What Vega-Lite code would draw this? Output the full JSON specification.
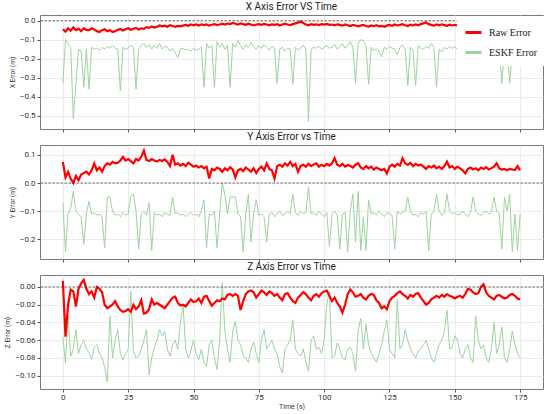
{
  "$schema": "https://vega.github.io/schema/vega-lite/v6.json",
  "description": "Raw vs ESKF position error on X, Y and Z axes over time.",
  "padding": {"left": 4, "right": 7, "top": 1, "bottom": 2},
  "datasets": {
    "x": [
      {"t":0,"r":-0.045,"e":-0.33},{"t":1,"r":-0.058,"e":-0.10},{"t":2,"r":-0.04,"e":-0.12},{"t":3,"r":-0.052,"e":-0.14},{"t":4,"r":-0.035,"e":-0.515},{"t":5,"r":-0.05,"e":-0.33},{"t":6,"r":-0.042,"e":-0.15},{"t":7,"r":-0.055,"e":-0.16},{"t":8,"r":-0.04,"e":-0.35},{"t":9,"r":-0.048,"e":-0.15},
      {"t":10,"r":-0.05,"e":-0.36},{"t":11,"r":-0.04,"e":-0.14},{"t":12,"r":-0.046,"e":-0.15},{"t":13,"r":-0.055,"e":-0.145},{"t":14,"r":-0.06,"e":-0.155},{"t":15,"r":-0.05,"e":-0.14},{"t":16,"r":-0.045,"e":-0.15},{"t":17,"r":-0.055,"e":-0.135},{"t":18,"r":-0.05,"e":-0.145},{"t":19,"r":-0.06,"e":-0.13},
      {"t":20,"r":-0.055,"e":-0.145},{"t":21,"r":-0.048,"e":-0.15},{"t":22,"r":-0.044,"e":-0.37},{"t":23,"r":-0.052,"e":-0.14},{"t":24,"r":-0.045,"e":-0.15},{"t":25,"r":-0.04,"e":-0.145},{"t":26,"r":-0.048,"e":-0.13},{"t":27,"r":-0.042,"e":-0.14},{"t":28,"r":-0.038,"e":-0.36},{"t":29,"r":-0.046,"e":-0.15},
      {"t":30,"r":-0.04,"e":-0.13},{"t":31,"r":-0.043,"e":-0.12},{"t":32,"r":-0.034,"e":-0.14},{"t":33,"r":-0.038,"e":-0.125},{"t":34,"r":-0.03,"e":-0.15},{"t":35,"r":-0.036,"e":-0.13},{"t":36,"r":-0.032,"e":-0.145},{"t":37,"r":-0.025,"e":-0.12},{"t":38,"r":-0.03,"e":-0.15},{"t":39,"r":-0.026,"e":-0.135},
      {"t":40,"r":-0.032,"e":-0.14},{"t":41,"r":-0.024,"e":-0.16},{"t":42,"r":-0.028,"e":-0.145},{"t":43,"r":-0.032,"e":-0.17},{"t":44,"r":-0.027,"e":-0.195},{"t":45,"r":-0.03,"e":-0.15},{"t":46,"r":-0.026,"e":-0.145},{"t":47,"r":-0.022,"e":-0.155},{"t":48,"r":-0.027,"e":-0.15},{"t":49,"r":-0.02,"e":-0.16},
      {"t":50,"r":-0.024,"e":-0.145},{"t":51,"r":-0.02,"e":-0.155},{"t":52,"r":-0.025,"e":-0.15},{"t":53,"r":-0.019,"e":-0.14},{"t":54,"r":-0.023,"e":-0.35},{"t":55,"r":-0.02,"e":-0.12},{"t":56,"r":-0.026,"e":-0.145},{"t":57,"r":-0.021,"e":-0.13},{"t":58,"r":-0.018,"e":-0.35},{"t":59,"r":-0.023,"e":-0.11},
      {"t":60,"r":-0.02,"e":-0.14},{"t":61,"r":-0.016,"e":-0.12},{"t":62,"r":-0.02,"e":-0.15},{"t":63,"r":-0.015,"e":-0.13},{"t":64,"r":-0.018,"e":-0.35},{"t":65,"r":-0.012,"e":-0.12},{"t":66,"r":-0.016,"e":-0.14},{"t":67,"r":-0.02,"e":-0.105},{"t":68,"r":-0.014,"e":-0.13},{"t":69,"r":-0.018,"e":-0.15},
      {"t":70,"r":-0.022,"e":-0.125},{"t":71,"r":-0.016,"e":-0.14},{"t":72,"r":-0.02,"e":-0.115},{"t":73,"r":-0.025,"e":-0.135},{"t":74,"r":-0.02,"e":-0.15},{"t":75,"r":-0.018,"e":-0.13},{"t":76,"r":-0.022,"e":-0.145},{"t":77,"r":-0.017,"e":-0.125},{"t":78,"r":-0.02,"e":-0.14},{"t":79,"r":-0.024,"e":-0.155},
      {"t":80,"r":-0.019,"e":-0.135},{"t":81,"r":-0.022,"e":-0.145},{"t":82,"r":-0.018,"e":-0.33},{"t":83,"r":-0.025,"e":-0.15},{"t":84,"r":-0.02,"e":-0.14},{"t":85,"r":-0.016,"e":-0.16},{"t":86,"r":-0.02,"e":-0.145},{"t":87,"r":-0.023,"e":-0.15},{"t":88,"r":-0.018,"e":-0.335},{"t":89,"r":-0.014,"e":-0.14},
      {"t":90,"r":-0.01,"e":-0.155},{"t":91,"r":-0.004,"e":-0.145},{"t":92,"r":-0.012,"e":-0.13},{"t":93,"r":-0.02,"e":-0.15},{"t":94,"r":-0.024,"e":-0.53},{"t":95,"r":-0.018,"e":-0.15},{"t":96,"r":-0.022,"e":-0.14},{"t":97,"r":-0.019,"e":-0.145},{"t":98,"r":-0.023,"e":-0.135},{"t":99,"r":-0.018,"e":-0.15},
      {"t":100,"r":-0.021,"e":-0.14},{"t":101,"r":-0.017,"e":-0.13},{"t":102,"r":-0.022,"e":-0.145},{"t":103,"r":-0.02,"e":-0.14},{"t":104,"r":-0.024,"e":-0.125},{"t":105,"r":-0.019,"e":-0.15},{"t":106,"r":-0.022,"e":-0.135},{"t":107,"r":-0.026,"e":-0.12},{"t":108,"r":-0.02,"e":-0.145},{"t":109,"r":-0.024,"e":-0.13},
      {"t":110,"r":-0.028,"e":-0.11},{"t":111,"r":-0.022,"e":-0.14},{"t":112,"r":-0.025,"e":-0.33},{"t":113,"r":-0.03,"e":-0.12},{"t":114,"r":-0.026,"e":-0.10},{"t":115,"r":-0.022,"e":-0.105},{"t":116,"r":-0.028,"e":-0.13},{"t":117,"r":-0.031,"e":-0.335},{"t":118,"r":-0.025,"e":-0.14},{"t":119,"r":-0.029,"e":-0.155},
      {"t":120,"r":-0.024,"e":-0.145},{"t":121,"r":-0.03,"e":-0.16},{"t":122,"r":-0.027,"e":-0.19},{"t":123,"r":-0.032,"e":-0.14},{"t":124,"r":-0.026,"e":-0.15},{"t":125,"r":-0.022,"e":-0.135},{"t":126,"r":-0.027,"e":-0.145},{"t":127,"r":-0.02,"e":-0.15},{"t":128,"r":-0.025,"e":-0.18},{"t":129,"r":-0.022,"e":-0.14},
      {"t":130,"r":-0.018,"e":-0.13},{"t":131,"r":-0.024,"e":-0.15},{"t":132,"r":-0.028,"e":-0.34},{"t":133,"r":-0.021,"e":-0.14},{"t":134,"r":-0.025,"e":-0.155},{"t":135,"r":-0.02,"e":-0.34},{"t":136,"r":-0.024,"e":-0.13},{"t":137,"r":-0.018,"e":-0.145},{"t":138,"r":-0.014,"e":-0.15},{"t":139,"r":-0.009,"e":-0.135},
      {"t":140,"r":-0.018,"e":-0.145},{"t":141,"r":-0.022,"e":-0.12},{"t":142,"r":-0.026,"e":-0.14},{"t":143,"r":-0.02,"e":-0.35},{"t":144,"r":-0.024,"e":-0.15},{"t":145,"r":-0.019,"e":-0.165},{"t":146,"r":-0.023,"e":-0.14},{"t":147,"r":-0.027,"e":-0.15},{"t":148,"r":-0.021,"e":-0.135},{"t":149,"r":-0.025,"e":-0.145},
      {"t":150,"r":-0.022,"e":-0.14},{"t":151,"r":-0.025,"e":-0.15},{"t":152,"r":-0.02,"e":-0.14},{"t":153,"r":-0.024,"e":-0.145},{"t":154,"r":-0.022,"e":-0.15},{"t":155,"r":-0.026,"e":-0.14},{"t":156,"r":-0.021,"e":-0.145},{"t":157,"r":-0.024,"e":-0.15},{"t":158,"r":-0.02,"e":-0.14},{"t":159,"r":-0.025,"e":-0.145},
      {"t":160,"r":-0.022,"e":-0.15},{"t":161,"r":-0.026,"e":-0.14},{"t":162,"r":-0.021,"e":-0.145},{"t":163,"r":-0.024,"e":-0.15},{"t":164,"r":-0.02,"e":-0.14},{"t":165,"r":-0.025,"e":-0.145},{"t":166,"r":-0.022,"e":-0.15},{"t":167,"r":-0.024,"e":-0.14},{"t":168,"r":-0.021,"e":-0.33},{"t":169,"r":-0.025,"e":-0.145},
      {"t":170,"r":-0.022,"e":-0.15},{"t":171,"r":-0.024,"e":-0.33},{"t":172,"r":-0.02,"e":-0.145},{"t":173,"r":-0.023,"e":-0.14},{"t":174,"r":-0.021,"e":-0.15},{"t":175,"r":-0.024,"e":-0.145}
    ],
    "y": [
      {"t":0,"r":0.075,"e":-0.07},{"t":1,"r":0.02,"e":-0.245},{"t":2,"r":0.04,"e":-0.11},{"t":3,"r":0.015,"e":-0.09},{"t":4,"r":0.0,"e":-0.03},{"t":5,"r":0.025,"e":-0.1},{"t":6,"r":0.01,"e":-0.11},{"t":7,"r":0.03,"e":-0.12},{"t":8,"r":0.035,"e":-0.217},{"t":9,"r":0.04,"e":-0.11},
      {"t":10,"r":0.03,"e":-0.065},{"t":11,"r":0.045,"e":-0.11},{"t":12,"r":0.07,"e":-0.105},{"t":13,"r":0.045,"e":-0.115},{"t":14,"r":0.055,"e":-0.11},{"t":15,"r":0.04,"e":-0.12},{"t":16,"r":0.06,"e":-0.23},{"t":17,"r":0.07,"e":-0.05},{"t":18,"r":0.065,"e":-0.05},{"t":19,"r":0.075,"e":-0.1},
      {"t":20,"r":0.07,"e":-0.115},{"t":21,"r":0.072,"e":-0.11},{"t":22,"r":0.08,"e":-0.12},{"t":23,"r":0.093,"e":-0.105},{"t":24,"r":0.08,"e":-0.115},{"t":25,"r":0.085,"e":-0.11},{"t":26,"r":0.078,"e":-0.045},{"t":27,"r":0.07,"e":-0.04},{"t":28,"r":0.085,"e":-0.1},{"t":29,"r":0.08,"e":-0.235},
      {"t":30,"r":0.093,"e":-0.11},{"t":31,"r":0.115,"e":-0.1},{"t":32,"r":0.082,"e":-0.115},{"t":33,"r":0.078,"e":-0.07},{"t":34,"r":0.085,"e":-0.24},{"t":35,"r":0.08,"e":-0.105},{"t":36,"r":0.076,"e":-0.115},{"t":37,"r":0.082,"e":-0.11},{"t":38,"r":0.078,"e":-0.12},{"t":39,"r":0.084,"e":-0.105},
      {"t":40,"r":0.075,"e":-0.11},{"t":41,"r":0.06,"e":-0.115},{"t":42,"r":0.1,"e":-0.05},{"t":43,"r":0.065,"e":-0.11},{"t":44,"r":0.07,"e":-0.105},{"t":45,"r":0.062,"e":-0.115},{"t":46,"r":0.068,"e":-0.11},{"t":47,"r":0.06,"e":-0.12},{"t":48,"r":0.072,"e":-0.11},{"t":49,"r":0.065,"e":-0.105},
      {"t":50,"r":0.058,"e":-0.115},{"t":51,"r":0.062,"e":-0.11},{"t":52,"r":0.055,"e":-0.12},{"t":53,"r":0.06,"e":-0.1},{"t":54,"r":0.052,"e":-0.06},{"t":55,"r":0.058,"e":-0.23},{"t":56,"r":0.016,"e":-0.11},{"t":57,"r":0.05,"e":-0.115},{"t":58,"r":0.045,"e":-0.1},{"t":59,"r":0.055,"e":-0.23},
      {"t":60,"r":0.05,"e":-0.11},{"t":61,"r":0.04,"e":0.0},{"t":62,"r":0.052,"e":-0.04},{"t":63,"r":0.045,"e":-0.11},{"t":64,"r":0.056,"e":-0.05},{"t":65,"r":0.048,"e":-0.05},{"t":66,"r":0.02,"e":-0.05},{"t":67,"r":0.045,"e":-0.11},{"t":68,"r":0.05,"e":-0.12},{"t":69,"r":0.042,"e":-0.245},
      {"t":70,"r":0.055,"e":-0.11},{"t":71,"r":0.048,"e":-0.04},{"t":72,"r":0.04,"e":-0.21},{"t":73,"r":0.052,"e":-0.11},{"t":74,"r":0.035,"e":-0.06},{"t":75,"r":0.05,"e":-0.115},{"t":76,"r":0.058,"e":-0.11},{"t":77,"r":0.045,"e":-0.12},{"t":78,"r":0.07,"e":-0.21},{"t":79,"r":0.05,"e":-0.11},
      {"t":80,"r":0.045,"e":-0.105},{"t":81,"r":0.016,"e":-0.12},{"t":82,"r":0.06,"e":-0.11},{"t":83,"r":0.065,"e":-0.1},{"t":84,"r":0.058,"e":-0.115},{"t":85,"r":0.07,"e":-0.11},{"t":86,"r":0.062,"e":-0.1},{"t":87,"r":0.075,"e":-0.11},{"t":88,"r":0.06,"e":-0.04},{"t":89,"r":0.068,"e":-0.105},
      {"t":90,"r":0.04,"e":-0.115},{"t":91,"r":0.06,"e":-0.1},{"t":92,"r":0.065,"e":-0.11},{"t":93,"r":0.058,"e":-0.105},{"t":94,"r":0.068,"e":-0.015},{"t":95,"r":0.06,"e":-0.11},{"t":96,"r":0.066,"e":-0.105},{"t":97,"r":0.07,"e":-0.115},{"t":98,"r":0.058,"e":-0.1},{"t":99,"r":0.065,"e":-0.11},
      {"t":100,"r":0.06,"e":-0.12},{"t":101,"r":0.068,"e":-0.105},{"t":102,"r":0.062,"e":-0.225},{"t":103,"r":0.07,"e":-0.11},{"t":104,"r":0.088,"e":-0.1},{"t":105,"r":0.065,"e":-0.115},{"t":106,"r":0.06,"e":-0.235},{"t":107,"r":0.068,"e":-0.11},{"t":108,"r":0.058,"e":-0.105},{"t":109,"r":0.064,"e":-0.245},
      {"t":110,"r":0.06,"e":-0.1},{"t":111,"r":0.055,"e":-0.04},{"t":112,"r":0.065,"e":-0.21},{"t":113,"r":0.07,"e":-0.03},{"t":114,"r":0.055,"e":-0.24},{"t":115,"r":0.05,"e":-0.12},{"t":116,"r":0.06,"e":-0.24},{"t":117,"r":0.052,"e":-0.06},{"t":118,"r":0.058,"e":-0.11},{"t":119,"r":0.048,"e":-0.105},
      {"t":120,"r":0.055,"e":-0.115},{"t":121,"r":0.05,"e":-0.1},{"t":122,"r":0.045,"e":-0.11},{"t":123,"r":0.05,"e":-0.12},{"t":124,"r":0.034,"e":-0.105},{"t":125,"r":0.058,"e":-0.11},{"t":126,"r":0.065,"e":-0.115},{"t":127,"r":0.058,"e":-0.235},{"t":128,"r":0.068,"e":-0.1},{"t":129,"r":0.062,"e":-0.11},
      {"t":130,"r":0.088,"e":-0.105},{"t":131,"r":0.07,"e":-0.1},{"t":132,"r":0.064,"e":-0.05},{"t":133,"r":0.072,"e":-0.1},{"t":134,"r":0.06,"e":-0.115},{"t":135,"r":0.068,"e":-0.11},{"t":136,"r":0.062,"e":-0.12},{"t":137,"r":0.066,"e":-0.105},{"t":138,"r":0.058,"e":-0.11},{"t":139,"r":0.05,"e":-0.1},
      {"t":140,"r":0.06,"e":-0.24},{"t":141,"r":0.055,"e":-0.11},{"t":142,"r":0.062,"e":-0.1},{"t":143,"r":0.052,"e":-0.04},{"t":144,"r":0.058,"e":-0.1},{"t":145,"r":0.05,"e":-0.115},{"t":146,"r":0.06,"e":-0.105},{"t":147,"r":0.076,"e":-0.04},{"t":148,"r":0.055,"e":-0.1},{"t":149,"r":0.06,"e":-0.11},
      {"t":150,"r":0.05,"e":-0.105},{"t":151,"r":0.058,"e":-0.115},{"t":152,"r":0.052,"e":-0.11},{"t":153,"r":0.045,"e":-0.1},{"t":154,"r":0.034,"e":-0.11},{"t":155,"r":0.05,"e":-0.12},{"t":156,"r":0.055,"e":-0.105},{"t":157,"r":0.048,"e":-0.05},{"t":158,"r":0.052,"e":-0.1},{"t":159,"r":0.045,"e":-0.11},
      {"t":160,"r":0.055,"e":-0.115},{"t":161,"r":0.05,"e":-0.105},{"t":162,"r":0.056,"e":-0.1},{"t":163,"r":0.048,"e":-0.11},{"t":164,"r":0.052,"e":-0.105},{"t":165,"r":0.058,"e":-0.05},{"t":166,"r":0.07,"e":-0.1},{"t":167,"r":0.052,"e":-0.11},{"t":168,"r":0.048,"e":-0.235},{"t":169,"r":0.05,"e":-0.05},
      {"t":170,"r":0.045,"e":-0.1},{"t":171,"r":0.05,"e":-0.04},{"t":172,"r":0.048,"e":-0.245},{"t":173,"r":0.046,"e":-0.11},{"t":174,"r":0.06,"e":-0.24},{"t":175,"r":0.045,"e":-0.11}
    ],
    "z": [
      {"t":0,"r":0.007,"e":-0.056},{"t":1,"r":-0.056,"e":-0.086},{"t":2,"r":-0.02,"e":-0.033},{"t":3,"r":-0.003,"e":-0.078},{"t":4,"r":-0.005,"e":-0.07},{"t":5,"r":-0.022,"e":-0.048},{"t":6,"r":-0.002,"e":-0.075},{"t":7,"r":0.004,"e":-0.065},{"t":8,"r":0.008,"e":-0.06},{"t":9,"r":-0.002,"e":-0.07},
      {"t":10,"r":-0.008,"e":-0.074},{"t":11,"r":-0.005,"e":-0.082},{"t":12,"r":-0.012,"e":-0.068},{"t":13,"r":0.0,"e":-0.065},{"t":14,"r":-0.002,"e":-0.075},{"t":15,"r":-0.006,"e":-0.08},{"t":16,"r":-0.02,"e":-0.09},{"t":17,"r":-0.024,"e":-0.107},{"t":18,"r":-0.022,"e":-0.033},{"t":19,"r":-0.02,"e":-0.08},
      {"t":20,"r":-0.016,"e":-0.06},{"t":21,"r":-0.022,"e":-0.048},{"t":22,"r":-0.026,"e":-0.075},{"t":23,"r":-0.028,"e":-0.082},{"t":24,"r":-0.027,"e":-0.075},{"t":25,"r":-0.025,"e":-0.07},{"t":26,"r":-0.028,"e":-0.005},{"t":27,"r":-0.02,"e":-0.072},{"t":28,"r":-0.025,"e":-0.08},{"t":29,"r":-0.022,"e":-0.078},
      {"t":30,"r":-0.015,"e":-0.07},{"t":31,"r":-0.03,"e":-0.06},{"t":32,"r":-0.029,"e":-0.048},{"t":33,"r":-0.025,"e":-0.099},{"t":34,"r":-0.014,"e":-0.08},{"t":35,"r":-0.02,"e":-0.068},{"t":36,"r":-0.018,"e":-0.06},{"t":37,"r":-0.02,"e":-0.048},{"t":38,"r":-0.022,"e":-0.055},{"t":39,"r":-0.024,"e":-0.05},
      {"t":40,"r":-0.02,"e":-0.07},{"t":41,"r":-0.016,"e":-0.078},{"t":42,"r":-0.012,"e":-0.065},{"t":43,"r":-0.011,"e":-0.06},{"t":44,"r":-0.018,"e":-0.07},{"t":45,"r":-0.021,"e":-0.04},{"t":46,"r":-0.02,"e":-0.02},{"t":47,"r":-0.022,"e":-0.07},{"t":48,"r":-0.018,"e":-0.08},{"t":49,"r":-0.014,"e":-0.072},
      {"t":50,"r":-0.017,"e":-0.06},{"t":51,"r":-0.016,"e":-0.075},{"t":52,"r":-0.013,"e":-0.082},{"t":53,"r":-0.018,"e":-0.07},{"t":54,"r":-0.011,"e":-0.085},{"t":55,"r":-0.01,"e":-0.09},{"t":56,"r":-0.016,"e":-0.065},{"t":57,"r":-0.021,"e":-0.06},{"t":58,"r":-0.018,"e":-0.08},{"t":59,"r":-0.015,"e":-0.093},
      {"t":60,"r":-0.016,"e":-0.06},{"t":61,"r":-0.013,"e":0.005},{"t":62,"r":-0.014,"e":-0.05},{"t":63,"r":-0.009,"e":-0.07},{"t":64,"r":-0.008,"e":-0.085},{"t":65,"r":-0.01,"e":-0.05},{"t":66,"r":-0.008,"e":-0.039},{"t":67,"r":-0.01,"e":-0.06},{"t":68,"r":-0.026,"e":-0.065},{"t":69,"r":-0.016,"e":-0.078},
      {"t":70,"r":-0.008,"e":-0.08},{"t":71,"r":-0.005,"e":-0.085},{"t":72,"r":-0.004,"e":-0.07},{"t":73,"r":-0.006,"e":-0.062},{"t":74,"r":-0.012,"e":-0.075},{"t":75,"r":-0.008,"e":-0.085},{"t":76,"r":-0.004,"e":-0.06},{"t":77,"r":-0.006,"e":-0.048},{"t":78,"r":-0.009,"e":-0.07},{"t":79,"r":-0.005,"e":-0.065},
      {"t":80,"r":-0.007,"e":-0.06},{"t":81,"r":-0.01,"e":-0.07},{"t":82,"r":-0.008,"e":-0.075},{"t":83,"r":-0.012,"e":-0.09},{"t":84,"r":-0.015,"e":-0.097},{"t":85,"r":-0.008,"e":-0.07},{"t":86,"r":-0.007,"e":-0.065},{"t":87,"r":-0.012,"e":-0.06},{"t":88,"r":-0.016,"e":-0.037},{"t":89,"r":-0.018,"e":-0.07},
      {"t":90,"r":-0.012,"e":-0.075},{"t":91,"r":-0.009,"e":-0.078},{"t":92,"r":-0.006,"e":-0.07},{"t":93,"r":-0.008,"e":-0.085},{"t":94,"r":-0.012,"e":-0.095},{"t":95,"r":-0.015,"e":-0.06},{"t":96,"r":-0.01,"e":-0.055},{"t":97,"r":-0.008,"e":-0.07},{"t":98,"r":-0.011,"e":-0.068},{"t":99,"r":-0.007,"e":-0.075},
      {"t":100,"r":-0.005,"e":-0.06},{"t":101,"r":-0.004,"e":-0.02},{"t":102,"r":-0.01,"e":-0.005},{"t":103,"r":-0.016,"e":-0.08},{"t":104,"r":-0.012,"e":-0.078},{"t":105,"r":-0.018,"e":-0.063},{"t":106,"r":-0.022,"e":-0.07},{"t":107,"r":-0.029,"e":-0.08},{"t":108,"r":-0.02,"e":-0.082},{"t":109,"r":-0.008,"e":-0.07},
      {"t":110,"r":-0.003,"e":-0.068},{"t":111,"r":-0.006,"e":-0.075},{"t":112,"r":-0.011,"e":-0.095},{"t":113,"r":-0.01,"e":-0.05},{"t":114,"r":-0.008,"e":-0.035},{"t":115,"r":-0.012,"e":-0.07},{"t":116,"r":-0.014,"e":-0.042},{"t":117,"r":-0.01,"e":-0.065},{"t":118,"r":-0.008,"e":-0.075},{"t":119,"r":-0.009,"e":-0.08},
      {"t":120,"r":-0.015,"e":-0.085},{"t":121,"r":-0.018,"e":-0.075},{"t":122,"r":-0.024,"e":-0.065},{"t":123,"r":-0.022,"e":-0.05},{"t":124,"r":-0.025,"e":-0.037},{"t":125,"r":-0.016,"e":-0.07},{"t":126,"r":-0.012,"e":-0.075},{"t":127,"r":-0.01,"e":-0.08},{"t":128,"r":-0.007,"e":-0.014},{"t":129,"r":-0.005,"e":-0.07},
      {"t":130,"r":-0.008,"e":-0.065},{"t":131,"r":-0.01,"e":-0.048},{"t":132,"r":-0.013,"e":-0.06},{"t":133,"r":-0.009,"e":-0.07},{"t":134,"r":-0.011,"e":-0.075},{"t":135,"r":-0.008,"e":-0.08},{"t":136,"r":-0.007,"e":-0.072},{"t":137,"r":-0.012,"e":-0.07},{"t":138,"r":-0.016,"e":-0.065},{"t":139,"r":-0.02,"e":-0.06},
      {"t":140,"r":-0.018,"e":-0.07},{"t":141,"r":-0.014,"e":-0.08},{"t":142,"r":-0.012,"e":-0.085},{"t":143,"r":-0.01,"e":-0.075},{"t":144,"r":-0.012,"e":-0.065},{"t":145,"r":-0.009,"e":-0.06},{"t":146,"r":-0.011,"e":-0.05},{"t":147,"r":-0.008,"e":-0.026},{"t":148,"r":-0.01,"e":-0.07},{"t":149,"r":-0.011,"e":-0.068},
      {"t":150,"r":-0.013,"e":-0.055},{"t":151,"r":-0.011,"e":-0.06},{"t":152,"r":-0.01,"e":-0.075},{"t":153,"r":-0.012,"e":-0.08},{"t":154,"r":-0.008,"e":-0.07},{"t":155,"r":-0.002,"e":-0.065},{"t":156,"r":-0.003,"e":-0.08},{"t":157,"r":-0.006,"e":-0.085},{"t":158,"r":-0.008,"e":-0.033},{"t":159,"r":-0.007,"e":-0.06},
      {"t":160,"r":0.0,"e":-0.07},{"t":161,"r":0.003,"e":-0.065},{"t":162,"r":-0.006,"e":-0.08},{"t":163,"r":-0.01,"e":-0.085},{"t":164,"r":-0.012,"e":-0.07},{"t":165,"r":-0.014,"e":-0.04},{"t":166,"r":-0.01,"e":-0.075},{"t":167,"r":-0.009,"e":-0.065},{"t":168,"r":-0.011,"e":-0.045},{"t":169,"r":-0.013,"e":-0.08},
      {"t":170,"r":-0.012,"e":-0.085},{"t":171,"r":-0.009,"e":-0.07},{"t":172,"r":-0.008,"e":-0.05},{"t":173,"r":-0.01,"e":-0.065},{"t":174,"r":-0.013,"e":-0.075},{"t":175,"r":-0.014,"e":-0.08}
    ],
    "zero": [{"value": 0}]
  },
  "spacing": -2,
  "resolve": {"scale": {"color": "independent"}, "legend": {"color": "independent"}},
  "vconcat": [
    {
      "width": 503,
      "height": 114,
      "title": "X Axis Error VS Time",
      "encoding": {
        "y": {
          "field": "value",
          "type": "quantitative",
          "title": "X Error (m)",
          "scale": {"domain": [-0.57, 0.03], "nice": false, "zero": false},
          "axis": {"values": [0, -0.1, -0.2, -0.3, -0.4, -0.5], "format": ".1f", "labelOverlap": false, "labelFontSize": 8}
        }
      },
      "layer": [
        {
          "data": {"name": "x"},
          "transform": [{"fold": ["e", "r"], "as": ["series", "value"]}],
          "mark": {"type": "line", "clip": true},
          "encoding": {
            "x": {
              "field": "t",
              "type": "quantitative",
              "scale": {"domain": [-8.75, 183.75], "nice": false, "zero": false},
              "axis": {"values": [0, 25, 50, 75, 100, 125, 150, 175], "labels": false, "title": null}
            },
            "color": {
              "field": "series",
              "type": "nominal",
              "scale": {"domain": ["r", "e"], "range": ["#ff0000", "#9dd49d"]},
              "legend": {
                "title": null,
                "labelExpr": "datum.value == 'r' ? 'Raw Error' : 'ESKF Error'",
                "orient": "none",
                "legendX": 417,
                "legendY": 1,
                "padding": 7,
                "fillColor": "white",
                "symbolType": "stroke",
                "symbolStrokeWidth": 3,
                "symbolSize": 256,
                "labelFont": "Liberation Serif",
                "labelFontSize": 10,
                "labelColor": "#222",
                "rowPadding": 4,
                "labelOffset": 6
              }
            },
            "strokeWidth": {
              "field": "series",
              "type": "nominal",
              "scale": {"domain": ["r", "e"], "range": [2.2, 1]},
              "legend": null
            }
          }
        },
        {
          "data": {"name": "zero"},
          "mark": {"type": "rule", "color": "#333", "strokeWidth": 0.7, "strokeDash": [2.5, 1.5]}
        }
      ]
    },
    {
      "width": 503,
      "height": 114,
      "title": "Y Axis Error vs Time",
      "encoding": {
        "y": {
          "field": "value",
          "type": "quantitative",
          "title": "Y Error (m)",
          "scale": {"domain": [-0.27, 0.135], "nice": false, "zero": false},
          "axis": {"values": [0.1, 0, -0.1, -0.2], "format": ".1f", "labelOverlap": false, "labelFontSize": 8}
        }
      },
      "layer": [
        {
          "data": {"name": "y"},
          "transform": [{"fold": ["e", "r"], "as": ["series", "value"]}],
          "mark": {"type": "line", "clip": true},
          "encoding": {
            "x": {
              "field": "t",
              "type": "quantitative",
              "scale": {"domain": [-8.75, 183.75], "nice": false, "zero": false},
              "axis": {"values": [0, 25, 50, 75, 100, 125, 150, 175], "labels": false, "title": null}
            },
            "color": {
              "field": "series",
              "type": "nominal",
              "scale": {"domain": ["r", "e"], "range": ["#ff0000", "#9dd49d"]},
              "legend": null
            },
            "strokeWidth": {
              "field": "series",
              "type": "nominal",
              "scale": {"domain": ["r", "e"], "range": [2.2, 1]},
              "legend": null
            }
          }
        },
        {
          "data": {"name": "zero"},
          "mark": {"type": "rule", "color": "#333", "strokeWidth": 0.7, "strokeDash": [2.5, 1.5]}
        }
      ]
    },
    {
      "width": 503,
      "height": 114,
      "title": "Z Axis Error vs Time",
      "encoding": {
        "y": {
          "field": "value",
          "type": "quantitative",
          "title": "Z Error (m)",
          "scale": {"domain": [-0.115, 0.0135], "nice": false, "zero": false},
          "axis": {"values": [0, -0.02, -0.04, -0.06, -0.08, -0.1], "format": ".2f", "labelOverlap": false, "labelFontSize": 8}
        }
      },
      "layer": [
        {
          "data": {"name": "z"},
          "transform": [{"fold": ["e", "r"], "as": ["series", "value"]}],
          "mark": {"type": "line", "clip": true},
          "encoding": {
            "x": {
              "field": "t",
              "type": "quantitative",
              "title": "Time (s)",
              "scale": {"domain": [-8.75, 183.75], "nice": false, "zero": false},
              "axis": {"values": [0, 25, 50, 75, 100, 125, 150, 175], "titleFontSize": 7, "titlePadding": 1, "labelPadding": 1}
            },
            "color": {
              "field": "series",
              "type": "nominal",
              "scale": {"domain": ["r", "e"], "range": ["#ff0000", "#9dd49d"]},
              "legend": null
            },
            "strokeWidth": {
              "field": "series",
              "type": "nominal",
              "scale": {"domain": ["r", "e"], "range": [2.2, 1]},
              "legend": null
            }
          }
        },
        {
          "data": {"name": "zero"},
          "mark": {"type": "rule", "color": "#333", "strokeWidth": 0.7, "strokeDash": [2.5, 1.5]}
        }
      ]
    }
  ],
  "config": {
    "font": "Roboto",
    "background": "white",
    "view": {"stroke": "#7a7a7a", "strokeWidth": 1},
    "title": {"fontSize": 10, "fontWeight": "normal", "color": "#222", "offset": 3, "anchor": "middle"},
    "axis": {
      "grid": true,
      "gridColor": "#e6e6e6",
      "gridWidth": 0.8,
      "domain": false,
      "tickColor": "#555",
      "tickSize": 3,
      "labelFontSize": 8,
      "labelColor": "#333",
      "labelPadding": 2,
      "labelOverlap": false,
      "titleFontSize": 6.5,
      "titleFontWeight": "normal",
      "titleColor": "#333",
      "titlePadding": 4
    },
    "axisY": {"labelOverlap": false},
    "axisQuantitative": {"labelOverlap": false}
  }
}
